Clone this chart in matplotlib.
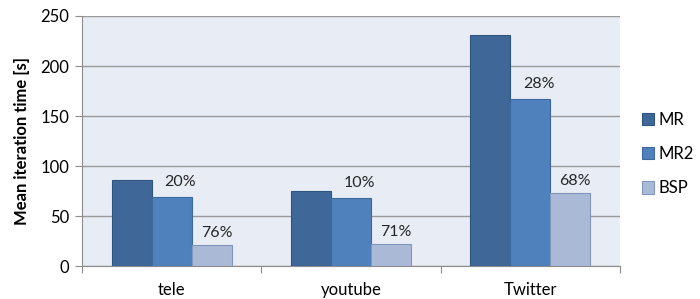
import matplotlib
matplotlib.use("Agg")
import matplotlib.pyplot as plt
import numpy as np

categories = ["tele", "youtube", "Twitter"]
series_names = ["MR", "MR2", "BSP"]
mr = [86, 75, 231]
mr2 = [69, 68, 167]
bsp = [21, 22, 73]
mr2_labels = ["20%", "10%", "28%"]
bsp_labels = ["76%", "71%", "68%"]

plt.rcParams['font.family'] = ['Lato', 'DejaVu Sans']

colors = ["#3F6899", "#4F81BD", "#AAB9D6"]
edges = ["#2F5480", "#3C6A9F", "#8096BD"]

fig = plt.figure(figsize=(7, 2.99), dpi=100)
ax = fig.add_axes([82/700, 1-266.3/299, (620-82)/700, (266.3-16)/299])
ax.set_facecolor("#E8ECF4")

x = np.arange(len(categories))
w = 0.223
vals = [mr, mr2, bsp]
for i, (v, c, e, n) in enumerate(zip(vals, colors, edges, series_names)):
    ax.bar(x + (i-1)*w, v, w, color=c, edgecolor=e, linewidth=0.8, label=n, zorder=3)

for i in range(len(categories)):
    ax.annotate(mr2_labels[i], (x[i], mr2[i]), xytext=(6, 6), textcoords="offset points",
                ha="center", va="bottom", fontsize=11.5, color="#262626")
    ax.annotate(bsp_labels[i], (x[i]+w, bsp[i]), xytext=(3.5, 4), textcoords="offset points",
                ha="center", va="bottom", fontsize=11.5, color="#262626")

ax.set_ylim(0, 250)
ax.set_xlim(-0.5, 2.5)
ax.set_yticks([0, 50, 100, 150, 200, 250])
ax.yaxis.grid(True, color="#9A9A9A", linewidth=1.0, zorder=0)
ax.set_axisbelow(True)

ax.set_xticks([-0.5, 0.5, 1.5, 2.5])
ax.set_xticklabels([])
ax.set_xticks(x, minor=True)
ax.set_xticklabels(categories, minor=True, fontsize=12)
ax.tick_params(axis='x', which='minor', length=0, pad=11)
ax.tick_params(axis='x', which='major', length=5, color="#8C8C8C", direction='out')
ax.tick_params(axis='y', length=5, color="#8C8C8C", labelsize=12, pad=4)

for s in ["top", "right"]:
    ax.spines[s].set_visible(False)
ax.spines["left"].set_color("#8C8C8C")
ax.spines["bottom"].set_color("#8C8C8C")

ax.set_ylabel("Mean iteration time [s]", fontsize=12, fontweight="bold", labelpad=8)

leg = fig.legend(loc="center left", bbox_to_anchor=(630/700, 1-154/299), frameon=False,
                 fontsize=12, handlelength=0.75, handleheight=0.75, handletextpad=0.25,
                 labelspacing=1.1, borderpad=0.2)

fig.savefig("out.png", dpi=100)
